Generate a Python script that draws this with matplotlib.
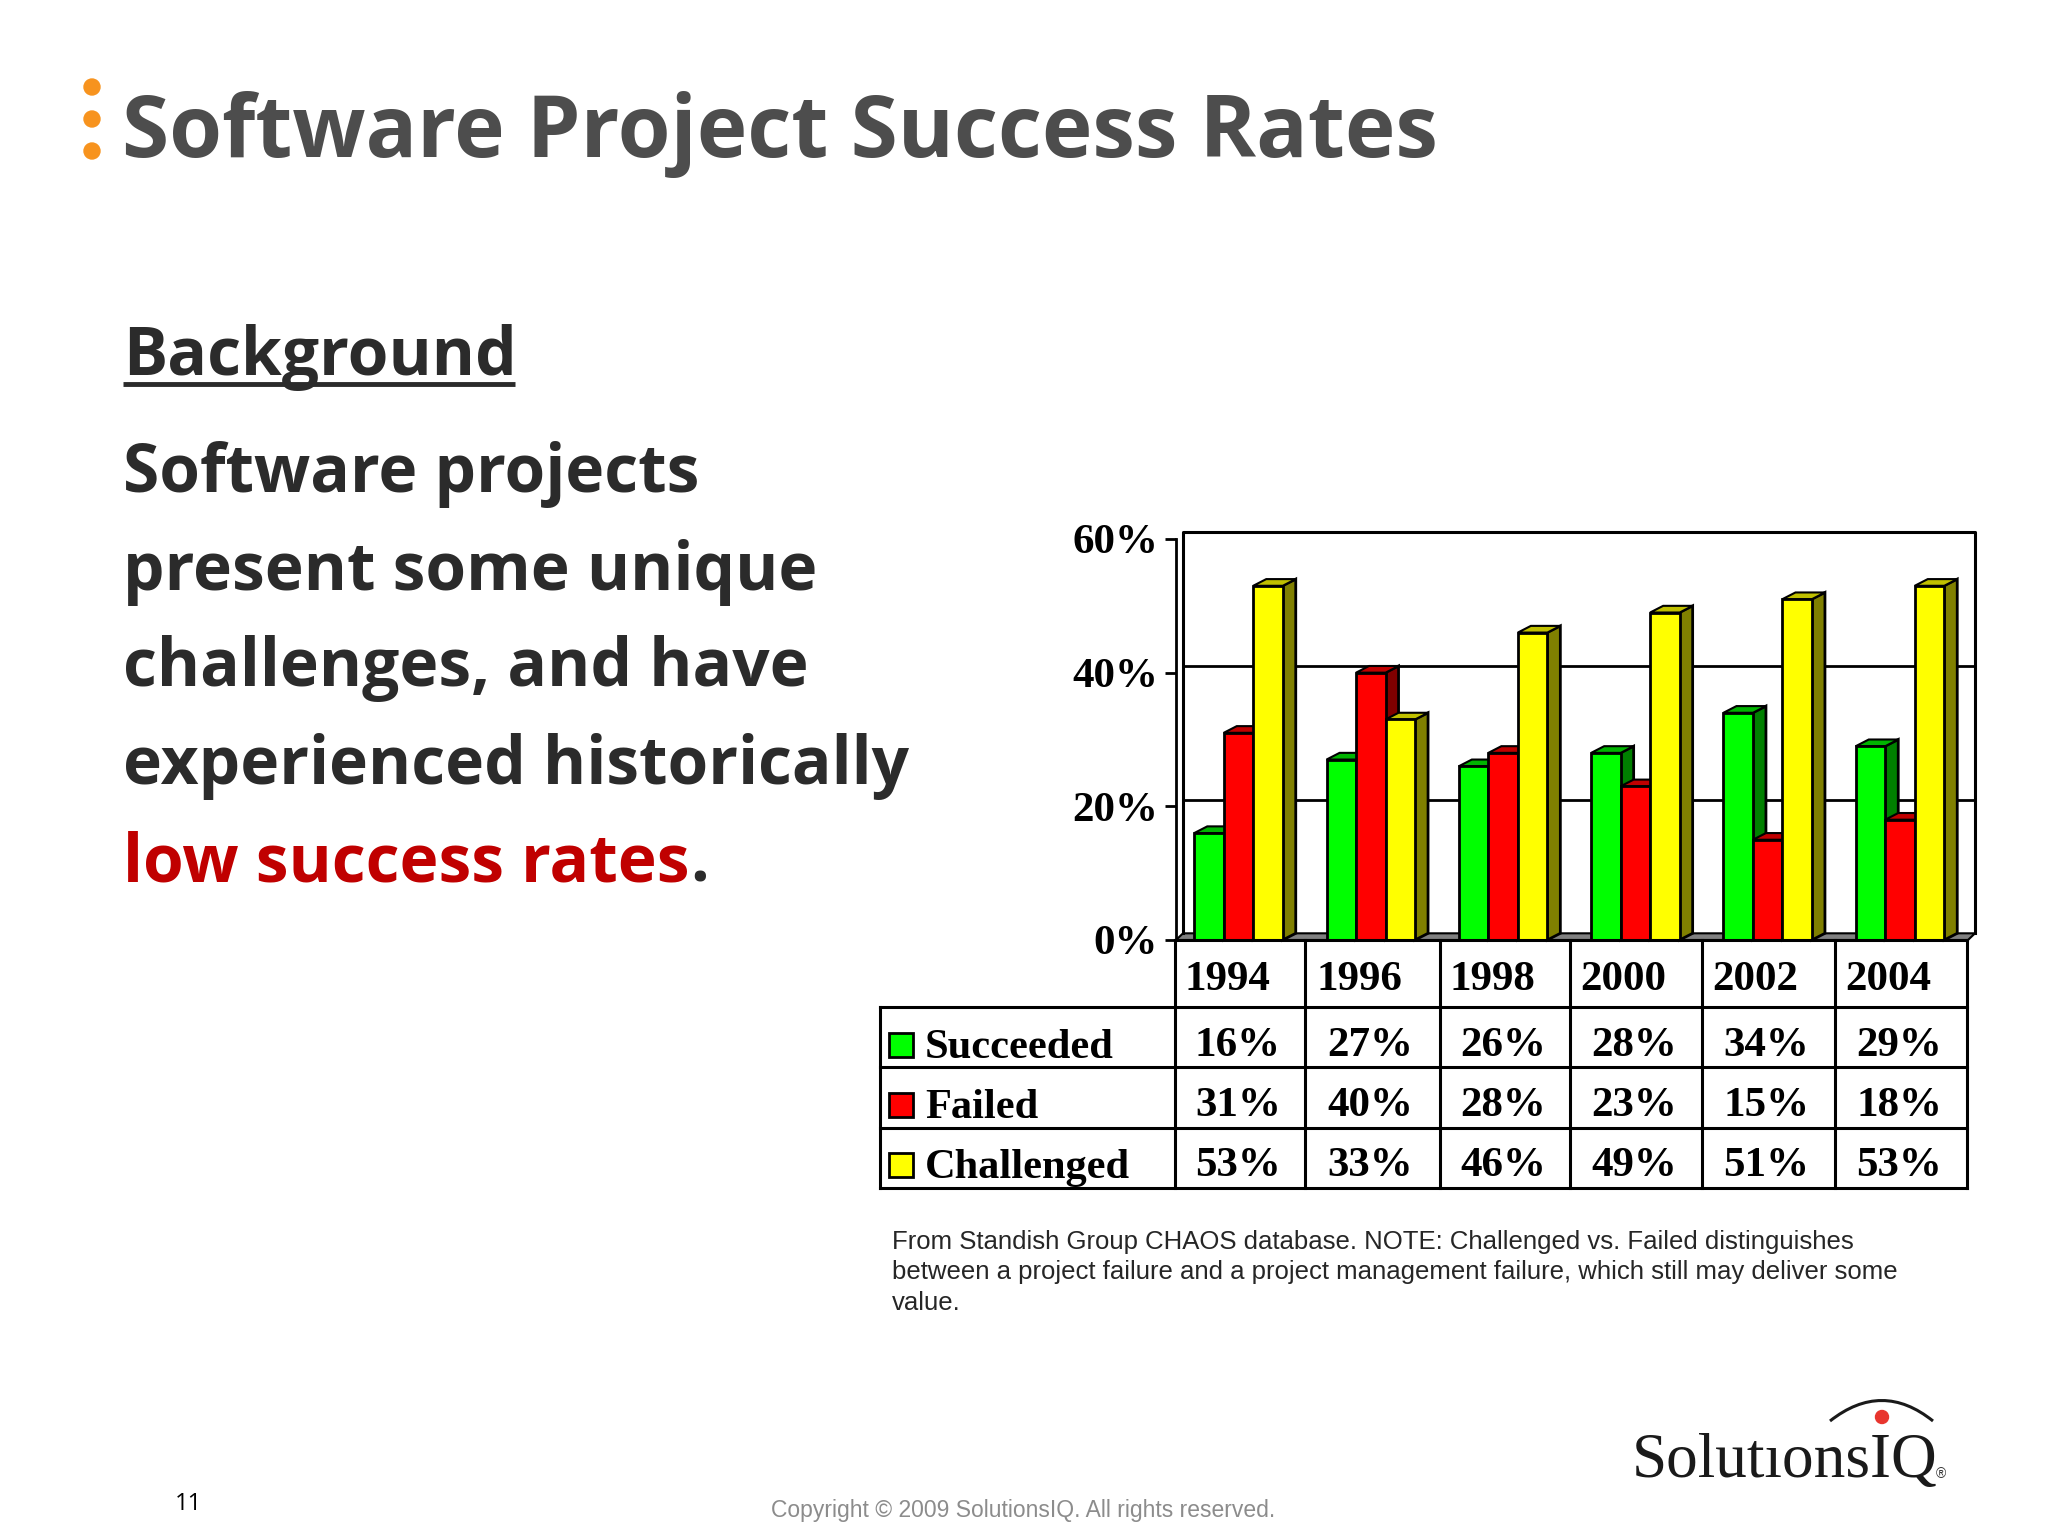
import matplotlib
matplotlib.use('Agg')
import matplotlib.pyplot as plt
from matplotlib.patches import Circle, PathPatch, Rectangle
from matplotlib.path import Path

W, H = 2048, 1536

years = ['1994', '1996', '1998', '2000', '2002', '2004']
succeeded = [16, 27, 26, 28, 34, 29]
failed = [31, 40, 28, 23, 15, 18]
challenged = [53, 33, 46, 49, 51, 53]
series_names = ['Succeeded', 'Failed', 'Challenged']
y_ticks = [0, 20, 40, 60]

title = 'Software Project Success Rates'
body_lines = ['Software projects', 'present some unique', 'challenges, and have',
              'experienced historically']
note_lines = ['From Standish Group CHAOS database. NOTE: Challenged vs. Failed distinguishes',
              'between a project failure and a project management failure, which still may deliver some',
              'value.']

# front, top, side colours for the fake 3d bars
colors = {'Succeeded': ('#00ff00', '#00b400', '#008000'),
          'Failed': ('#ff0000', '#c00000', '#800000'),
          'Challenged': ('#ffff00', '#c0c000', '#808000')}

serif = 'Liberation Serif'
calibri = 'Open Sans'

fig = plt.figure(figsize=(W / 100, H / 100), dpi=100, facecolor='white')

# chart axes, placed on the slide in pixels
left, right, zero, top = 1176, 1968, 940, 539
ax = fig.add_axes([left / W, 1 - zero / H, (right - left) / W, (zero - top) / H])
group_px = 132.3
first_center = 1238.5
ax.set_xlim((left - first_center) / group_px, (right - first_center) / group_px)
ax.set_ylim(0, 60)
ax.patch.set_alpha(0)
for s in ['top', 'right', 'bottom']:
    ax.spines[s].set_visible(False)
ax.spines['left'].set_linewidth(2)
ax.set_xticks([])
ax.set_yticks(y_ticks)
ax.set_yticklabels([f'{t}%' for t in y_ticks], family=serif, weight='bold', fontsize=31)
ax.tick_params(axis='y', length=8, width=2, pad=5)

wall_dx = 7 / group_px
wall_dy = 1.0
x0, x1 = ax.get_xlim()
# back wall and floor
ax.fill([x0, x0 + wall_dx, x1 + wall_dx, x1], [0, wall_dy, wall_dy, 0], color='#808080', ec='black', lw=1.5,
        clip_on=False, zorder=1)
ax.plot([x0 + wall_dx, x0 + wall_dx, x1 + wall_dx, x1 + wall_dx], [wall_dy, 60 + wall_dy, 60 + wall_dy, wall_dy],
        color='black', lw=2.2, clip_on=False, zorder=1)
for t in y_ticks[1:-1]:
    ax.plot([x0 + wall_dx, x1 + wall_dx], [t + wall_dy, t + wall_dy], color='black', lw=2, clip_on=False, zorder=1)

bar_w = 29.5 / group_px
bar_dx = 13 / group_px
bar_dy = 1.0
z = 3
for i in range(len(years)):
    for j, (name, vals) in enumerate(zip(series_names, [succeeded, failed, challenged])):
        v = vals[i]
        front, top_c, side = colors[name]
        xl = i + (j - 1.5) * bar_w
        xr = xl + bar_w
        ax.fill([xr, xr + bar_dx, xr + bar_dx, xr], [0, bar_dy, v + bar_dy, v], fc=side, ec='black', lw=2,
                clip_on=False, zorder=z)
        ax.fill([xl, xl + bar_dx, xr + bar_dx, xr], [v, v + bar_dy, v + bar_dy, v], fc=top_c, ec='black', lw=1.5,
                clip_on=False, zorder=z)
        ax.bar(xl, v, width=bar_w, align='edge', color=front, ec='black', lw=2, clip_on=False, zorder=z + 1)
        z += 2

# everything else goes on an overlay in slide pixels
ov = fig.add_axes([0, 0, 1, 1])
ov.set_xlim(0, W)
ov.set_ylim(H, 0)
ov.axis('off')
ov.patch.set_alpha(0)

for cy in [87, 119, 151]:
    ov.add_patch(Circle((92, cy), 8, color='#f7931e'))
ov.text(122, 157, title, family=calibri, weight='bold', fontsize=61.6, color='#4d4d4d', va='baseline')

ov.text(123, 375, 'Background', family=calibri, weight='bold', fontsize=47.4, color='#2b2b2b', va='baseline')
ov.plot([123, 515], [384, 384], color='#2b2b2b', lw=3.5, solid_capstyle='butt')
for line, by in zip(body_lines, [492, 590, 686, 784]):
    ov.text(123, by, line, family=calibri, weight='bold', fontsize=47.3, color='#2b2b2b', va='baseline')
red = ov.text(123, 882, 'low success rates', family=calibri, weight='bold', fontsize=47.3, color='#c00000',
              va='baseline')
fig.canvas.draw()
red_right = red.get_window_extent().x1
ov.text(red_right + 1, 882, '.', family=calibri, weight='bold', fontsize=47.3, color='#2b2b2b', va='baseline')

# table under the chart
col_x = [1175, 1305, 1440, 1570, 1702, 1835, 1967]
row_y = [940, 1007, 1067, 1128, 1188]
label_left = 880
for xx in col_x:
    ov.plot([xx, xx], [row_y[0], row_y[-1]], color='black', lw=2.2)
ov.plot([label_left, label_left], [row_y[1], row_y[-1]], color='black', lw=2.2)
ov.plot([col_x[0], col_x[-1]], [row_y[0], row_y[0]], color='black', lw=2.2)
for yy in row_y[1:]:
    ov.plot([label_left, col_x[-1]], [yy, yy], color='black', lw=2.2)

for i, y in enumerate(years):
    ov.text((col_x[i] + col_x[i + 1]) / 2 - 13, 990, y, family=serif, weight='bold', fontsize=31, ha='center',
            va='baseline', color='black')
row_base = [1058, 1118, 1178]
for name, vals, by in zip(series_names, [succeeded, failed, challenged], row_base):
    ov.add_patch(Rectangle((889, by - 25), 24, 24, fc=colors[name][0], ec='black', lw=2))
    ov.text(925, by, name, family=serif, weight='bold', fontsize=30.5, va='baseline', color='black')
    for i, v in enumerate(vals):
        ov.text((col_x[i] + col_x[i + 1]) / 2 - 2, by - 2, f'{v}%', family=serif, weight='bold', fontsize=31,
                ha='center', va='baseline', color='black')

for line, cy in zip(note_lines, [1242, 1272, 1303]):
    ov.text(892, cy, line, family='Liberation Sans', fontsize=18.55, color='#262626', va='center')

ov.text(188, 1504, '11', family='Open Sans', fontsize=17, color='black', ha='center', va='center')
ov.text(1023, 1511, 'Copyright © 2009 SolutionsIQ. All rights reserved.', family='Liberation Sans', fontsize=16.5,
        color='#8c8c8c', ha='center', va='center')

# logo
ov.text(1632, 1477, 'SolutıonsIQ', family=serif, fontsize=45.5, color='#1a1a1a', va='baseline')
ov.text(1941, 1474, '®', family='Liberation Sans', fontsize=10, color='#333333', ha='center', va='center')
arc = Path([(1830, 1421), (1882, 1380), (1933, 1421)], [Path.MOVETO, Path.CURVE3, Path.CURVE3])
ov.add_patch(PathPatch(arc, fc='none', ec='#1a1a1a', lw=2.2))
ov.add_patch(Circle((1882, 1417), 6.5, color='#e8352e'))

fig.savefig('out.png', dpi=100)
